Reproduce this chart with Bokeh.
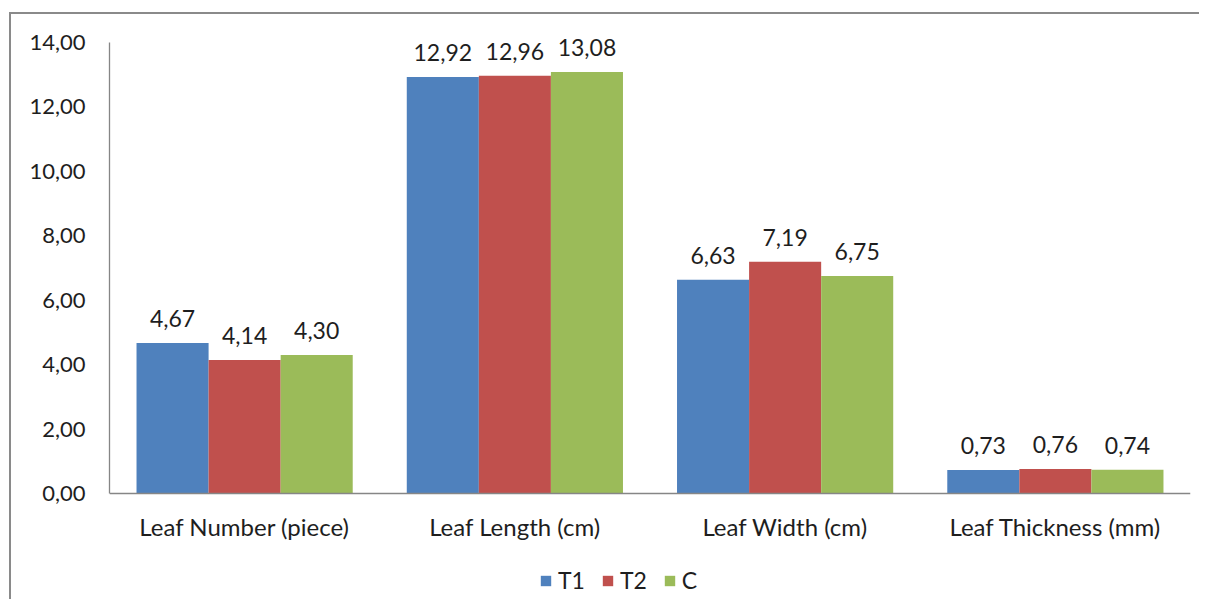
from bokeh.plotting import figure
from bokeh.models import (ColumnDataSource, FactorRange, Range1d, LabelSet, Legend, LegendItem,
                          CustomJSTickFormatter, FixedTicker)
from bokeh.core.properties import value
from bokeh.transform import dodge
from bokeh.embed import file_html
from bokeh.resources import INLINE

categories = ["Leaf Number (piece)", "Leaf Length (cm)", "Leaf Width (cm)", "Leaf Thickness (mm)"]
series_names = ["T1", "T2", "C"]
t1 = [4.67, 12.92, 6.63, 0.73]
t2 = [4.14, 12.96, 7.19, 0.76]
c = [4.30, 13.08, 6.75, 0.74]
y_ticks = [0, 2, 4, 6, 8, 10, 12, 14]

colors = ["#4F81BD", "#C0504D", "#9BBB59"]
FONT = "Lato"
TXT = "#1e1e1e"

# frame reaches the bottom of the chart so the legend fits inside it;
# the category axis is pinned at y = 0, the value axis is drawn from 0 to 14
Y_MIN = -3.35
Y_MAX = 14.8

p = figure(x_range=FactorRange(factors=categories, range_padding=0),
           y_range=Range1d(Y_MIN, Y_MAX),
           width=1190, height=587, output_backend="svg", toolbar_location=None,
           min_border_left=98, min_border_right=11, min_border_top=2, min_border_bottom=0,
           margin=(12, 0, 0, 9))
p.styles = {"border-top": "2px solid #8a8a8a", "border-left": "2px solid #8a8a8a"}
p.outline_line_color = None
p.grid.visible = False

bw = 0.8 / 3
offsets = [-bw, 0.0, bw]
vals = [t1, t2, c]
renderers = []
for name, v, off, col in zip(series_names, vals, offsets, colors):
    src = ColumnDataSource(dict(cat=categories, val=v,
                                lab=[f"{x:.2f}".replace(".", ",") for x in v]))
    r = p.vbar(x=dodge("cat", off, range=p.x_range), top="val", width=bw, source=src,
               fill_color=col, line_color=None)
    renderers.append((name, r))
    p.add_layout(LabelSet(x=dodge("cat", off, range=p.x_range), y="val", text="lab", source=src,
                          text_align="center", text_baseline="alphabetic", y_offset=16,
                          text_font=value(FONT), text_font_size="23px", text_color=TXT))

p.yaxis.ticker = FixedTicker(ticks=y_ticks)
p.yaxis.bounds = (0, 14)
p.yaxis.formatter = CustomJSTickFormatter(code="return tick.toFixed(2).replace('.', ',');")
p.xaxis.fixed_location = 0
for ax in (p.xaxis, p.yaxis):
    ax.axis_line_color = "#868686"
    ax.axis_line_width = 1.3
    ax.major_tick_line_color = None
    ax.minor_tick_line_color = None
    ax.major_label_text_font = FONT
    ax.major_label_text_color = TXT
p.yaxis.major_label_text_font_size = "22px"
p.xaxis.major_label_text_font_size = "24px"
p.yaxis.major_label_standoff = 18
p.xaxis.major_label_standoff = 12

legend = Legend(items=[LegendItem(label=n, renderers=[r]) for n, r in renderers],
                orientation="horizontal", location=(430, 7),
                glyph_width=13, glyph_height=13, label_standoff=6, spacing=16,
                padding=0, margin=0, border_line_color=None, background_fill_alpha=0,
                label_text_font=FONT, label_text_font_size="23px", label_text_color=TXT)
p.add_layout(legend, "center")

open("out.html", "w").write(file_html(p, INLINE))
